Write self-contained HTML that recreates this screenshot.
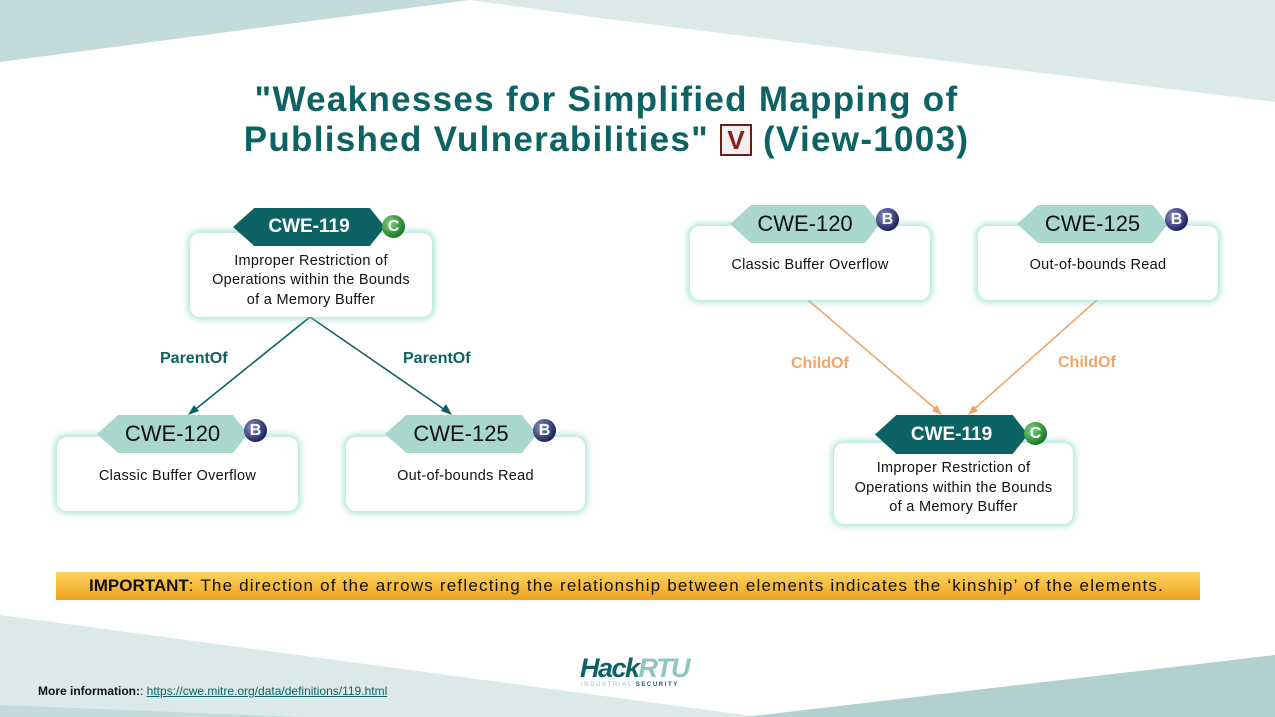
<!DOCTYPE html>
<html><head><meta charset="utf-8"><style>
*{margin:0;padding:0;box-sizing:border-box}
body{width:1275px;height:717px;position:relative;overflow:hidden;background:#fff;font-family:"Liberation Sans","DejaVu Sans",sans-serif}
.a{position:absolute}
.box{position:absolute;background:#fff;border-radius:10px;box-shadow:0 0 6px 3px rgba(120,210,195,.55);display:flex;align-items:center;justify-content:center;text-align:center;font-size:14.5px;line-height:19.5px;color:#111;letter-spacing:.3px}
.tag{position:absolute;display:flex;align-items:center;justify-content:center;font-size:22px;clip-path:polygon(0 50%,14% 0,90% 0,100% 50%,90% 100%,14% 100%)}
.dk{background:#0d6363;color:#fff;font-weight:bold;font-size:19px}
.lt{background:#a9d6cd;color:#111}
.bd{position:absolute;width:23px;height:23px;border-radius:50%;color:#fff;font-weight:bold;font-size:16px;display:flex;align-items:center;justify-content:center}
.g{background:radial-gradient(circle at 35% 35%,#7fd37f,#1f7a2a 70%)}
.n{background:radial-gradient(circle at 35% 35%,#8a92c8,#1e2460 70%)}
.lbl{position:absolute;font-weight:bold;font-size:16px}
</style></head><body>
<svg class="a" style="left:0;top:0" width="1275" height="717">
<polygon points="470,0 1275,0 1275,102 600,18" fill="#dbeae9"/>
<polygon points="0,0 470,0 0,62" fill="#c3dcdb"/>
<polygon points="0,615 760,717 0,717" fill="#dbe9e8"/>
<polygon points="0,705 300,717 0,717" fill="#c3dcdb"/>
<polygon points="745,717 1275,655 1275,717" fill="#b2d0cf"/>
<line x1="310" y1="317" x2="192" y2="412" stroke="#0d6363" stroke-width="1.6"/>
<polygon points="188,415 194,405 199,411" fill="#0d6363"/>
<line x1="310" y1="317" x2="448" y2="412" stroke="#0d6363" stroke-width="1.6"/>
<polygon points="452,415 441,411 446,404" fill="#0d6363"/>
<line x1="808" y1="300" x2="938" y2="411" stroke="#f0a66a" stroke-width="1.6"/>
<polygon points="942,415 932,411 937,405" fill="#f0a66a"/>
<line x1="1097" y1="300" x2="972" y2="411" stroke="#f0a66a" stroke-width="1.6"/>
<polygon points="968,415 973,405 978,411" fill="#f0a66a"/>
</svg>
<div class="a" style="left:0;top:80px;width:1213px;text-align:center;font-size:35px;font-weight:bold;color:#0d6363;line-height:40px;letter-spacing:1.3px">"Weaknesses for Simplified Mapping of<br>Published Vulnerabilities" <span style="display:inline-block;width:32px;height:32px;border:2px solid #6a1f1f;color:#8b1c1c;font-size:26px;line-height:28px;vertical-align:2px;background:#f4f0f0;letter-spacing:0">V</span> (View-1003)</div>

<div class="box" style="left:190px;top:233px;width:242px;height:84px;padding-top:12px">Improper Restriction of<br>Operations within the Bounds<br>of a Memory Buffer</div>
<div class="tag dk" style="left:233px;top:208px;width:152px;height:38px">CWE-119</div>
<div class="bd g" style="left:382px;top:215px">C</div>

<div class="box" style="left:57px;top:437px;width:241px;height:74px;padding-top:6px">Classic Buffer Overflow</div>
<div class="tag lt" style="left:97px;top:415px;width:151px;height:38px">CWE-120</div>
<div class="bd n" style="left:244px;top:419px">B</div>
<div class="box" style="left:346px;top:437px;width:239px;height:74px;padding-top:6px">Out-of-bounds Read</div>
<div class="tag lt" style="left:385px;top:415px;width:152px;height:38px">CWE-125</div>
<div class="bd n" style="left:533px;top:419px">B</div>

<div class="box" style="left:690px;top:226px;width:240px;height:74px;padding-top:6px">Classic Buffer Overflow</div>
<div class="tag lt" style="left:730px;top:205px;width:150px;height:38px">CWE-120</div>
<div class="bd n" style="left:876px;top:208px">B</div>
<div class="box" style="left:978px;top:226px;width:240px;height:74px;padding-top:6px">Out-of-bounds Read</div>
<div class="tag lt" style="left:1017px;top:205px;width:151px;height:38px">CWE-125</div>
<div class="bd n" style="left:1165px;top:208px">B</div>

<div class="box" style="left:834px;top:443px;width:239px;height:81px;padding-top:10px">Improper Restriction of<br>Operations within the Bounds<br>of a Memory Buffer</div>
<div class="tag dk" style="left:875px;top:415px;width:153px;height:39px">CWE-119</div>
<div class="bd g" style="left:1024px;top:422px">C</div>

<div class="lbl" style="left:160px;top:350px;color:#0d6363">ParentOf</div>
<div class="lbl" style="left:403px;top:350px;color:#0d6363">ParentOf</div>
<div class="lbl" style="left:791px;top:355px;color:#f0a66a">ChildOf</div>
<div class="lbl" style="left:1058px;top:354px;color:#f0a66a">ChildOf</div>

<div class="a" style="left:56px;top:572px;width:1144px;height:28px;background:linear-gradient(#fcd35e,#efa21e);font-size:17px;line-height:28px;padding-left:33px;color:#111;letter-spacing:1.2px;white-space:nowrap"><b style="letter-spacing:0">IMPORTANT</b>: The direction of the arrows reflecting the relationship between elements indicates the ‘kinship’ of the elements.</div>

<div class="a" style="left:580px;top:652px;font-size:27px;font-weight:bold;font-style:italic;letter-spacing:-1.5px;line-height:32px"><span style="color:#0d6363">Hack</span><span style="color:#8fc7bd">RTU</span></div>
<div class="a" style="left:581px;top:682px;font-size:6px;letter-spacing:1.6px;color:#8fc7bd">INDUSTRIAL <span style="color:#0d6363;font-weight:bold">SECURITY</span></div>

<div class="a" style="left:38px;top:684px;font-size:12px;color:#111"><b>More information:</b>: <span style="color:#0d6363;text-decoration:underline">https://cwe.mitre.org/data/definitions/119.html</span></div>
</body></html>
